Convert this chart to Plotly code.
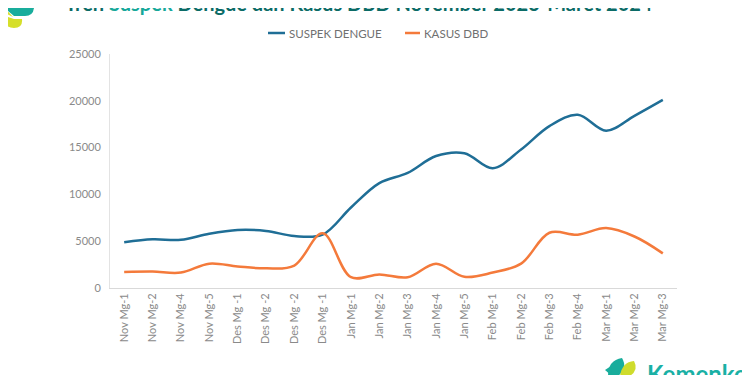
import plotly.graph_objects as go

categories = ["Nov Mg-1", "Nov Mg-2", "Nov Mg-4", "Nov Mg-5", "Des Mg -1", "Des Mg -2",
              "Des Mg -2", "Des Mg -1", "Jan Mg-1", "Jan Mg-2", "Jan Mg-3", "Jan Mg-4",
              "Jan Mg-5", "Feb Mg-1", "Feb Mg-2", "Feb Mg-3", "Feb Mg-4", "Mar Mg-1",
              "Mar Mg-2", "Mar Mg-3"]
suspek_dengue = [4900, 5200, 5150, 5800, 6200, 6100, 5550, 5700, 8600, 11200, 12300, 14100,
                 14400, 12800, 14800, 17300, 18500, 16800, 18400, 20100]
kasus_dbd = [1700, 1750, 1650, 2600, 2300, 2100, 2400, 5850, 1150, 1450, 1150, 2600,
             1200, 1650, 2600, 5900, 5700, 6400, 5500, 3700]
y_ticks = [0, 5000, 10000, 15000, 20000, 25000]
series_names = ["SUSPEK DENGUE", "KASUS DBD"]
series_colors = ["#1f6e96", "#f47a3b"]

# page body has an 8px margin, so layout is expressed in screen pixels minus 8
OFF = 8
W, H = 750, 375
PL, PR, PT, PB = 110, 677, 54, 288          # plot area in screen pixels
L, T = PL - OFF, PT - OFF
R, B = W - (PR - OFF), H - (PB - OFF)
PW, PH = PR - PL, PB - PT


def px(x):
    return (x - PL) / PW


def py(y):
    return (PB - y) / PH


xs = list(range(len(categories)))
fig = go.Figure()
for name, vals, col in zip(series_names, [suspek_dengue, kasus_dbd], series_colors):
    fig.add_trace(go.Scatter(x=xs, y=vals, name=name, mode="lines",
                             line=dict(color=col, width=2.5, shape="spline", smoothing=1)))

gray = "#8a8a8a"
fig.update_layout(
    width=W, height=H,
    margin=dict(l=L, r=R, t=T, b=B, autoexpand=False),
    paper_bgcolor="white", plot_bgcolor="white",
    font=dict(family="Lato", color=gray, size=11),
    showlegend=False,
    xaxis=dict(range=[-0.5, len(categories) - 0.5], tickmode="array", tickvals=xs,
               ticktext=categories, tickangle=-90, showgrid=False, zeroline=False,
               showline=True, linecolor="#d9d9d9", linewidth=1, ticks="",
               tickfont=dict(size=11, color=gray), fixedrange=True, automargin=False),
    yaxis=dict(range=[0, 25000], tickmode="array", tickvals=y_ticks,
               ticktext=[str(v) for v in y_ticks], showgrid=False, zeroline=False,
               showline=True, linecolor="#e3e3e3", linewidth=1, ticks="",
               ticklabelstandoff=6,
               tickfont=dict(size=11, color=gray), fixedrange=True, automargin=False),
)

# custom legend (short line samples as in the reference)
leg_items = [(268, 285, 287), (405, 420, 422)]
for (x0, x1, tx), name, col in zip(leg_items, series_names, series_colors):
    fig.add_shape(type="line", xref="paper", yref="paper", x0=px(x0), x1=px(x1),
                  y0=py(33), y1=py(33), line=dict(color=col, width=2.5))
    fig.add_annotation(text=name, xref="paper", yref="paper", x=px(tx), y=py(33),
                       xanchor="left", yanchor="middle", showarrow=False,
                       font=dict(family="Lato", size=11.5, color="#707070"))

# Title (cut off at the top as in the reference)
fig.add_annotation(
    text="<b>Tren <span style='color:#17a89a'>Suspek</span> Dengue dan Kasus DBD November 2023-Maret 2024</b>",
    xref="paper", yref="paper", x=px(359), y=py(3), xanchor="center", yanchor="middle",
    showarrow=False, font=dict(family="Lato", size=20, color="#0b6b66"))

# Kemenkes text at bottom right
fig.add_annotation(
    text="<b>Kemenkes</b>", xref="paper", yref="paper", x=px(645), y=py(357),
    xanchor="left", yanchor="top", showarrow=False,
    font=dict(family="Lato", size=24, color="#1ab0a5"))

# top-left logo
fig.add_shape(type="path", xref="paper", yref="paper", line=dict(width=0), fillcolor="#19ad9c",
              path=f"M {px(8)},{py(-2)} L {px(34)},{py(-2)} L {px(34)},{py(8)} "
                   f"Q {px(33)},{py(16)} {px(25)},{py(16)} L {px(14)},{py(16)} L {px(8)},{py(11)} Z")
fig.add_shape(type="path", xref="paper", yref="paper", line=dict(width=0), fillcolor="#d6df2a",
              path=f"M {px(5)},{py(8)} L {px(13)},{py(17)} L {px(5)},{py(13)} Z")
fig.add_shape(type="path", xref="paper", yref="paper", line=dict(width=0), fillcolor="#d6df2a",
              path=f"M {px(5)},{py(16)} L {px(14)},{py(19)} L {px(22)},{py(19)} "
                   f"Q {px(23)},{py(28)} {px(14)},{py(28)} Q {px(5)},{py(28)} {px(5)},{py(20)} Z")
fig.add_shape(type="circle", xref="paper", yref="paper", line=dict(width=0), fillcolor="#d6df2a",
              x0=px(39), x1=px(45), y0=py(3), y1=py(-3))

# bottom-right logo
fig.add_shape(type="path", xref="paper", yref="paper", line=dict(width=0), fillcolor="#19ad9c",
              path=f"M {px(608)},{py(376)} Q {px(608)},{py(360)} {px(622)},{py(358)} "
                   f"Q {px(628)},{py(368)} {px(618)},{py(376)} Z")
fig.add_shape(type="path", xref="paper", yref="paper", line=dict(width=0), fillcolor="#cfdc2c",
              path=f"M {px(620)},{py(376)} Q {px(622)},{py(362)} {px(634)},{py(361)} "
                   f"Q {px(639)},{py(370)} {px(630)},{py(376)} Z")
fig.add_shape(type="path", xref="paper", yref="paper", line=dict(width=0), fillcolor="#19ad9c",
              path=f"M {px(612)},{py(376)} L {px(605)},{py(370)} L {px(611)},{py(366)} Z")

fig.write_html("out.html")
